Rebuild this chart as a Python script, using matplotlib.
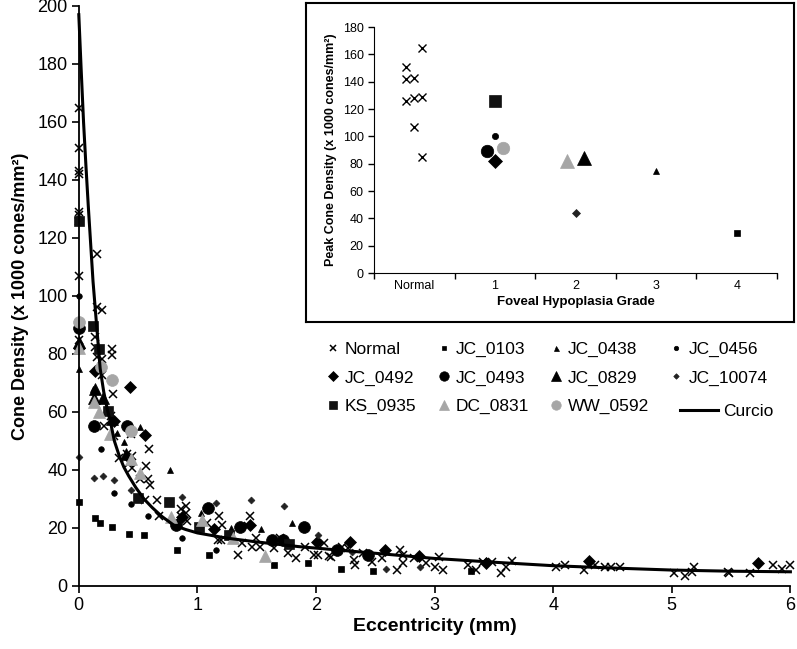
"""
Densité des cônes en fonction de l'excentricité, avec encart des pics par grade.
"""

import matplotlib
matplotlib.use('Agg')
import matplotlib.pyplot as plt

plt.rcParams['font.family'] = ['Liberation Sans', 'DejaVu Sans']

# ---- données du graphique principal (excentricité mm, densité x1000) ----
normal_x = [0, 0, 0, 0, 0, 0, 0, 0, 0,
            0.15, 0.155, 0.197, 0.14, 0.14, 0.28, 0.28, 0.155, 0.197, 0.197, 0.29,
            0.21, 0.27, 0.295, 0.34, 0.41, 0.45, 0.42, 0.45, 0.44, 0.59, 0.57, 0.52,
            0.58, 0.60, 0.56, 0.66, 0.68, 0.86, 0.90, 0.90, 0.86, 0.91, 1.08, 1.18,
            1.21, 1.17, 1.20, 1.34, 1.38, 1.44, 1.43, 1.49, 1.46, 1.53, 1.65, 1.70,
            1.76, 1.83, 1.91, 1.98, 2.07, 2.02, 2.11, 2.13, 2.22, 2.27, 2.32, 2.33,
            2.40, 2.47, 2.56, 2.68, 2.71, 2.73, 2.73, 2.83, 2.93, 3.0, 3.04, 3.07,
            3.28, 3.35, 3.41, 3.48, 3.56, 3.60, 3.65, 4.02, 4.10, 4.26, 4.35, 4.44,
            4.49, 4.56, 5.02, 5.11, 5.17, 5.19, 5.47, 5.48, 5.66, 5.85, 5.93, 6.0]
normal_y = [165, 151, 143, 142, 129, 128, 126, 107, 85,
            114.5, 96.3, 95.1, 86, 82.4, 81.6, 79.5, 79, 78.4, 72.6, 66.2,
            55.3, 58.7, 51.8, 44.3, 45.4, 44.9, 42.5, 40.8, 52.4, 47.2, 41.4, 36.8,
            36.8, 35, 29.8, 29.8, 24, 26.4, 27.5, 25.2, 24, 22.3, 21.7, 24,
            21.2, 16, 16, 10.8, 14.8, 24, 20.6, 16.5, 13.6, 13.6, 13.1, 16.5,
            11.3, 9.6, 13.6, 10.8, 14.8, 10.7, 10.2, 10.1, 13.6, 13, 9, 7.2,
            11.3, 8.4, 9.5, 5.5, 12.4, 10.7, 7.8, 9.5, 7.8, 6.7, 10.1, 5.5,
            7.2, 5.5, 8.4, 8.4, 4.4, 6.7, 8.6, 6.7, 7.2, 5.5, 7.2, 6.7,
            6.7, 6.7, 4.4, 3.5, 5.0, 6.7, 4.7, 4.4, 4.4, 7.2, 5.7, 7.2]

jc0103_x = [0, 0.135, 0.18, 0.28, 0.42, 0.55, 0.83, 1.1, 1.65, 1.93, 2.21, 2.48, 3.31]
jc0103_y = [29, 23.5, 21.7, 20.3, 18, 17.5, 12.3, 10.8, 7.2, 7.9, 5.8, 5.1, 5.1]

jc0438_x = [0, 0.12, 0.32, 0.38, 0.52, 0.77, 1.03, 1.28, 1.54, 1.80]
jc0438_y = [75, 68, 52.7, 49.5, 54.7, 39.9, 25.2, 19.9, 19.5, 21.7]

jc0456_x = [0, 0.19, 0.295, 0.44, 0.58, 0.87, 1.16]
jc0456_y = [100, 47.2, 32.1, 28.4, 24, 16.6, 12.3]

jc0492_x = [0, 0.14, 0.295, 0.43, 0.56, 0.87, 1.14, 1.44, 2.01, 2.29, 2.58, 2.87, 3.43, 4.30, 5.73]
jc0492_y = [82, 74.3, 57, 68.6, 52, 23.7, 19.5, 21, 15.3, 15.3, 12.4, 10.2, 7.8, 8.6, 8.1]

jc0493_x = [0, 0.13, 0.41, 0.82, 1.09, 1.36, 1.63, 1.72, 1.90, 2.18, 2.44]
jc0493_y = [89, 55.3, 55.3, 21, 26.8, 20.2, 16, 16, 20.2, 12.4, 10.7]

jc0829_x = [0, 0.13, 0.14, 0.20, 0.28, 0.40]
jc0829_y = [84, 65, 68, 65, 57.5, 45.5]

jc10074_x = [0, 0.13, 0.2, 0.3, 0.44, 0.87, 1.16, 1.45, 1.73, 2.02, 2.3, 2.59, 2.88]
jc10074_y = [44.5, 37.3, 37.9, 36.5, 33, 30.6, 28.5, 29.7, 27.6, 17.5, 11.8, 5.7, 6.5]

ks0935_x = [0, 0.12, 0.17, 0.25, 0.5, 0.76, 1.01, 1.27, 1.77]
ks0935_y = [126, 89.5, 81.8, 60.5, 30.4, 29, 20.3, 17.7, 14.5]

dc0831_x = [0, 0.127, 0.17, 0.26, 0.44, 0.52, 0.78, 1.04, 1.30, 1.57]
dc0831_y = [82, 63.4, 59.9, 52.4, 43.7, 39.1, 23.8, 22.9, 16.5, 10.5]

ww0592_x = [0, 0.19, 0.28, 0.44]
ww0592_y = [91, 75.5, 71, 53.5]

curcio_x = [0.0, 0.02, 0.04, 0.06, 0.08, 0.10, 0.12, 0.14, 0.16, 0.18, 0.21, 0.24,
            0.27, 0.30, 0.34, 0.38, 0.42, 0.48, 0.55, 0.62, 0.70, 0.80, 0.90, 1.0,
            1.25, 1.5, 1.85, 2.3, 3.0, 3.5, 4.0, 4.5, 5.0, 5.5, 6.0]
curcio_y = [197, 178, 160, 145, 131, 118, 105, 95, 85, 75, 67, 61,
            56, 50, 45, 41, 38, 34, 30, 27, 24, 21, 19.5, 18.3,
            16.5, 15.2, 13.6, 12, 9.5, 8.2, 7, 6.2, 5.5, 5.1, 4.9]

# ---- données de l'encart (pic de densité par grade) ----
grade_labels = ['Normal', '1', '2', '3', '4']
peak_normal_x = [0.4, 0.4, 0.4, 0.5, 0.5, 0.5, 0.6, 0.6, 0.6]
peak_normal_y = [151, 142, 126, 143, 128, 107, 165, 129, 85]
peak = {
    # nom: (x catégoriel, pic)
    'JC_0103': (4.5, 29),
    'JC_0438': (3.5, 75),
    'JC_0456': (1.5, 100),
    'JC_0492': (1.5, 82),
    'JC_0493': (1.4, 89),
    'JC_0829': (2.6, 84),
    'JC_10074': (2.5, 44),
    'KS_0935': (1.5, 126),
    'DC_0831': (2.4, 82),
    'WW_0592': (1.6, 91.5),
}

GRAY = '#a6a6a6'
styles = {
    'JC_0103': dict(marker='s', ms=3.8, color='black'),
    'JC_0438': dict(marker='^', ms=4.5, color='black'),
    'JC_0456': dict(marker='o', ms=4.0, color='black'),
    'JC_0492': dict(marker='D', ms=6.5, color='black'),
    'JC_0493': dict(marker='o', ms=8.5, color='black'),
    'JC_0829': dict(marker='^', ms=8.5, color='black'),
    'JC_10074': dict(marker='D', ms=3.5, color='#222222'),
    'KS_0935': dict(marker='s', ms=7.0, color='#111111'),
    'DC_0831': dict(marker='^', ms=8.5, color=GRAY),
    'WW_0592': dict(marker='o', ms=8.5, color=GRAY),
}
main_data = {
    'JC_0103': (jc0103_x, jc0103_y),
    'JC_0438': (jc0438_x, jc0438_y),
    'JC_0456': (jc0456_x, jc0456_y),
    'JC_0492': (jc0492_x, jc0492_y),
    'JC_0493': (jc0493_x, jc0493_y),
    'JC_0829': (jc0829_x, jc0829_y),
    'JC_10074': (jc10074_x, jc10074_y),
    'KS_0935': (ks0935_x, ks0935_y),
    'DC_0831': (dc0831_x, dc0831_y),
    'WW_0592': (ww0592_x, ww0592_y),
}

fig = plt.figure(figsize=(7.97, 6.49), dpi=100)

# ---- graphique principal ----
ax = fig.add_axes([78.8 / 797, 1 - 586 / 649, (790.4 - 78.8) / 797, (586 - 6) / 649])
handles = {}
h, = ax.plot(normal_x, normal_y, ls='none', marker='x', ms=6, mew=1.1, color='black',
             clip_on=False, label='Normal')
handles['Normal'] = h
for name, (xs, ys) in main_data.items():
    st = styles[name]
    h, = ax.plot(xs, ys, ls='none', marker=st['marker'], ms=st['ms'], color=st['color'],
                 mec=st['color'], mew=0.5, clip_on=False, label=name)
    handles[name] = h
hc, = ax.plot(curcio_x, curcio_y, color='black', lw=2.2, label='Curcio', clip_on=False)

ax.set_xlim(0, 6)
ax.set_ylim(0, 200)
ax.set_xticks(range(0, 7))
ax.set_yticks(range(0, 201, 20))
for s in ['top', 'right']:
    ax.spines[s].set_visible(False)
for s in ['left', 'bottom']:
    ax.spines[s].set_linewidth(1.3)
ax.tick_params(direction='out', length=5, width=1.2, labelsize=13, pad=3)
ax.set_xlabel('Eccentricity (mm)', fontsize=14, fontweight='bold', labelpad=3)
ax.set_ylabel('Cone Density (x 1000 cones/mm²)', fontsize=13, fontweight='bold', labelpad=6)

# ---- cadre de l'encart ----
frame = fig.add_axes([306 / 797, 1 - 322 / 649, (794 - 306) / 797, (322 - 3) / 649])
frame.set_xticks([])
frame.set_yticks([])
for s in frame.spines.values():
    s.set_linewidth(1.5)

# ---- encart ----
ins = fig.add_axes([374 / 797, 1 - 273 / 649, (777 - 374) / 797, (273 - 27) / 649])
ins.plot(peak_normal_x, peak_normal_y, ls='none', marker='x', ms=6, mew=1.0, color='black')
inset_ms = {'JC_0103': 4.5, 'JC_0438': 5, 'JC_0456': 4.5, 'JC_0492': 7, 'JC_0493': 9,
            'JC_0829': 9.5, 'JC_10074': 4, 'KS_0935': 8.5, 'DC_0831': 9.5, 'WW_0592': 9}
for name, (gx, gy) in peak.items():
    st = styles[name]
    ins.plot([gx], [gy], ls='none', marker=st['marker'], ms=inset_ms[name],
             color=st['color'], mec=st['color'], mew=0.5)
ins.set_xlim(0, 5)
ins.set_ylim(0, 180)
ins.set_yticks(range(0, 181, 20))
ins.set_xticks(range(0, 6))
ins.set_xticklabels([])
ins.set_xticks([i + 0.5 for i in range(5)], minor=True)
ins.set_xticklabels(grade_labels, minor=True)
ins.tick_params(axis='x', which='minor', length=0, labelsize=9, pad=5)
ins.tick_params(axis='both', which='major', direction='out', length=4, width=1, labelsize=9)
for s in ['top', 'right']:
    ins.spines[s].set_visible(False)
ins.set_xlabel('Foveal Hypoplasia Grade', fontsize=9.5, fontweight='bold', labelpad=3)
ins.set_ylabel('Peak Cone Density (x 1000 cones/mm²)', fontsize=9, fontweight='bold', labelpad=4)

# ---- légende ----
order = ['Normal', 'JC_0492', 'KS_0935', 'JC_0103', 'JC_0493', 'DC_0831',
         'JC_0438', 'JC_0829', 'WW_0592', 'JC_0456', 'JC_10074']
fig.legend([handles[n] for n in order], order, loc='center left',
           bbox_to_anchor=(326 / 797, 1 - 378 / 649), ncol=4, frameon=False,
           fontsize=12.5, handlelength=0.8, handletextpad=0.3, columnspacing=1.15,
           labelspacing=0.75, borderpad=0, borderaxespad=0, numpoints=1, markerscale=0.8)
fig.legend([hc], ['Curcio'], loc='center left', bbox_to_anchor=(680 / 797, 1 - 411 / 649),
           frameon=False, fontsize=12.5, handlelength=2.2, handletextpad=0.3,
           borderpad=0, borderaxespad=0)

fig.savefig('out.png', dpi=100)
plt.close(fig)
